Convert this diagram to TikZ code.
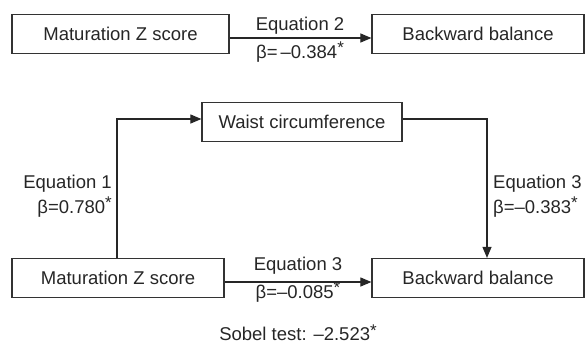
\documentclass[tikz,border=0pt]{standalone}
\usepackage{fontspec}
\setmainfont{Liberation Sans}
\usetikzlibrary{arrows.meta}
\newcommand{\sigast}{\raisebox{0.45ex}{\fontsize{17}{17}\selectfont *}}
\begin{document}
\begin{tikzpicture}[x=1pt,y=-1pt,
  box/.style={draw=black!80,line width=1.2pt,minimum height=39pt,inner sep=0pt,font=\fontsize{18.5}{21}\selectfont,text=black!85},
  lbl/.style={font=\fontsize{18.5}{21}\selectfont,text=black!85,inner sep=0pt},
  conn/.style={draw=black!85,line width=1.1pt},
  arr/.style={conn,-{Triangle[length=11pt,width=9pt]}}]
\useasboundingbox (0,0) rectangle (586,346);
\node[box,minimum width=217pt] (m1) at (120.5,34) {Maturation Z score};
\node[box,minimum width=212pt] (b1) at (478,34) {Backward balance};
\node[box,minimum width=200pt] (w) at (302,122) {Waist circumference};
\node[box,minimum width=212pt] (m2) at (118,278) {Maturation Z score};
\node[box,minimum width=212pt] (b2) at (478,278) {Backward balance};
\coordinate (lc) at (117,119);
\coordinate (rc) at (487,119);
\draw[arr] ([yshift=-4pt]m1.east) -- ([yshift=-4pt]b1.west);
\draw[arr] ([yshift=-4pt]m2.east) -- ([yshift=-4pt]b2.west);
\draw[arr] (m2.north -| lc) -- (lc) -- ([yshift=3pt]w.west);
\draw[arr] ([yshift=3pt]w.east) -- (rc) -- (b2.north -| rc);
\node[lbl] (e2) at (300,26) {Equation 2};
\node[lbl] (s2) at (300,52) {β=\,–0.384\sigast};
\node[lbl,anchor=east] (e1) at (112,184) {Equation 1};
\node[lbl,anchor=east] (s1) at (112,207) {β=0.780\sigast};
\node[lbl,anchor=west] (e3) at (493,184) {Equation 3};
\node[lbl,anchor=west] (s3) at (493,207) {β=–0.383\sigast};
\node[lbl] (e4) at (298,266) {Equation 3};
\node[lbl] (s4) at (298,292) {β=–0.085\sigast};
\node[lbl] (sob) at (298,333) {Sobel test: –2.523\sigast};
\end{tikzpicture}
\end{document}
